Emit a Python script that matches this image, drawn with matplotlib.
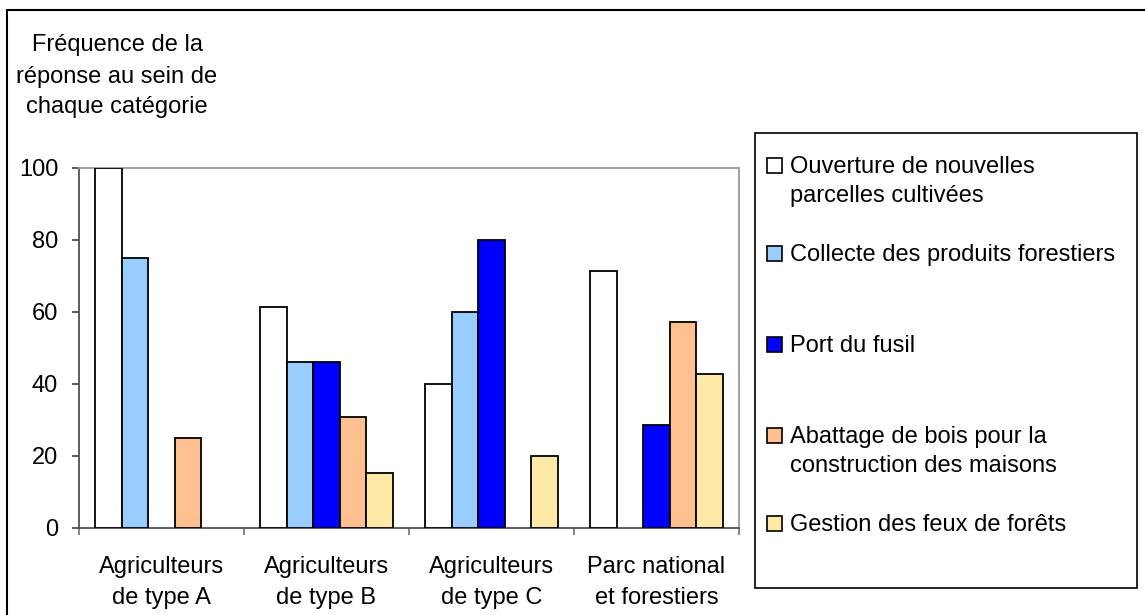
import numpy as np
import matplotlib
matplotlib.use('Agg')
import matplotlib.pyplot as plt
from matplotlib.patches import Rectangle

plt.rcParams['font.family'] = ['Liberation Sans', 'DejaVu Sans']

# Données
categories = ['Agriculteurs\nde type A', 'Agriculteurs\nde type B',
              'Agriculteurs\nde type C', 'Parc national\net forestiers']
series = ['Ouverture de nouvelles\nparcelles cultivées',
          'Collecte des produits forestiers',
          'Port du fusil',
          'Abattage de bois pour la\nconstruction des maisons',
          'Gestion des feux de forêts']
ouverture = [100, 61.5, 40, 71.4]
collecte = [75, 46.2, 60, 0]
fusil = [0, 46.2, 80, 28.6]
abattage = [25, 30.8, 0, 57.1]
feux = [0, 15.4, 20, 42.9]
valeurs = [ouverture, collecte, fusil, abattage, feux]
couleurs = ['#FFFFFF', '#99CCFF', '#0000FF', '#FFBF8F', '#FFE9A6']

W, H = 1145, 615
fig = plt.figure(figsize=(W / 100, H / 100), dpi=100)
ax = fig.add_axes([79 / W, 1 - 528 / H, (739 - 79) / W, (528 - 168) / H])

x = np.arange(len(categories))
largeur = 1 / 6.2
for i, (vals, coul) in enumerate(zip(valeurs, couleurs)):
    vals = np.array(vals, dtype=float)
    garde = vals > 0  # Excel ne dessine pas les barres nulles
    ax.bar(x[garde] + (i - 2) * largeur, vals[garde], largeur, color=coul,
           edgecolor='black', linewidth=1.3, zorder=3)

ax.set_xlim(-0.5, len(categories) - 0.5)
ax.set_ylim(0, 100)
ax.set_yticks(range(0, 101, 20))
ax.set_xticks(x)
ax.set_xticklabels(categories, fontsize=17, linespacing=1.55)
ax.set_xticks(np.arange(-0.5, len(categories)), minor=True)
ax.tick_params(axis='x', which='major', length=0, pad=20)
ax.tick_params(axis='x', which='minor', length=5, width=1.2, color='#707070')
ax.tick_params(axis='y', length=5, width=1.2, color='#404040', pad=10, labelsize=17)

for s in ['left', 'bottom']:
    ax.spines[s].set_color('#505050')
    ax.spines[s].set_linewidth(1.3)
for s in ['top', 'right']:
    ax.spines[s].set_color('#999999')
    ax.spines[s].set_linewidth(1.3)

# Titre de l'axe (trois lignes)
for ligne, yc in zip(['Fréquence de la', 'réponse au sein de', 'chaque catégorie'],
                     [45, 77, 107]):
    fig.text(117 / W, 1 - yc / H, ligne, fontsize=17, ha='center', va='center')

# Cadre extérieur
fig.patches.append(Rectangle((7 / W, -0.1), 2, 1 - 10 / H + 0.1, transform=fig.transFigure,
                             fill=False, edgecolor='black', linewidth=1.5))

# Légende dessinée à la main
fig.patches.append(Rectangle((755 / W, 1 - 588 / H), (1137 - 755) / W, (588 - 133) / H,
                             transform=fig.transFigure, facecolor='white',
                             edgecolor='black', linewidth=1.2))
pos_leg = [165, 253, 344, 435, 523]
for nom, coul, yc in zip(series, couleurs, pos_leg):
    fig.patches.append(Rectangle((767 / W, 1 - (yc + 7.5) / H), 15 / W, 15 / H,
                                 transform=fig.transFigure, facecolor=coul,
                                 edgecolor='black', linewidth=1.2))
    fig.text(790 / W, 1 - (yc - 9) / H, nom, fontsize=17, ha='left', va='top',
             linespacing=1.43)

fig.savefig('out.png', dpi=100)
